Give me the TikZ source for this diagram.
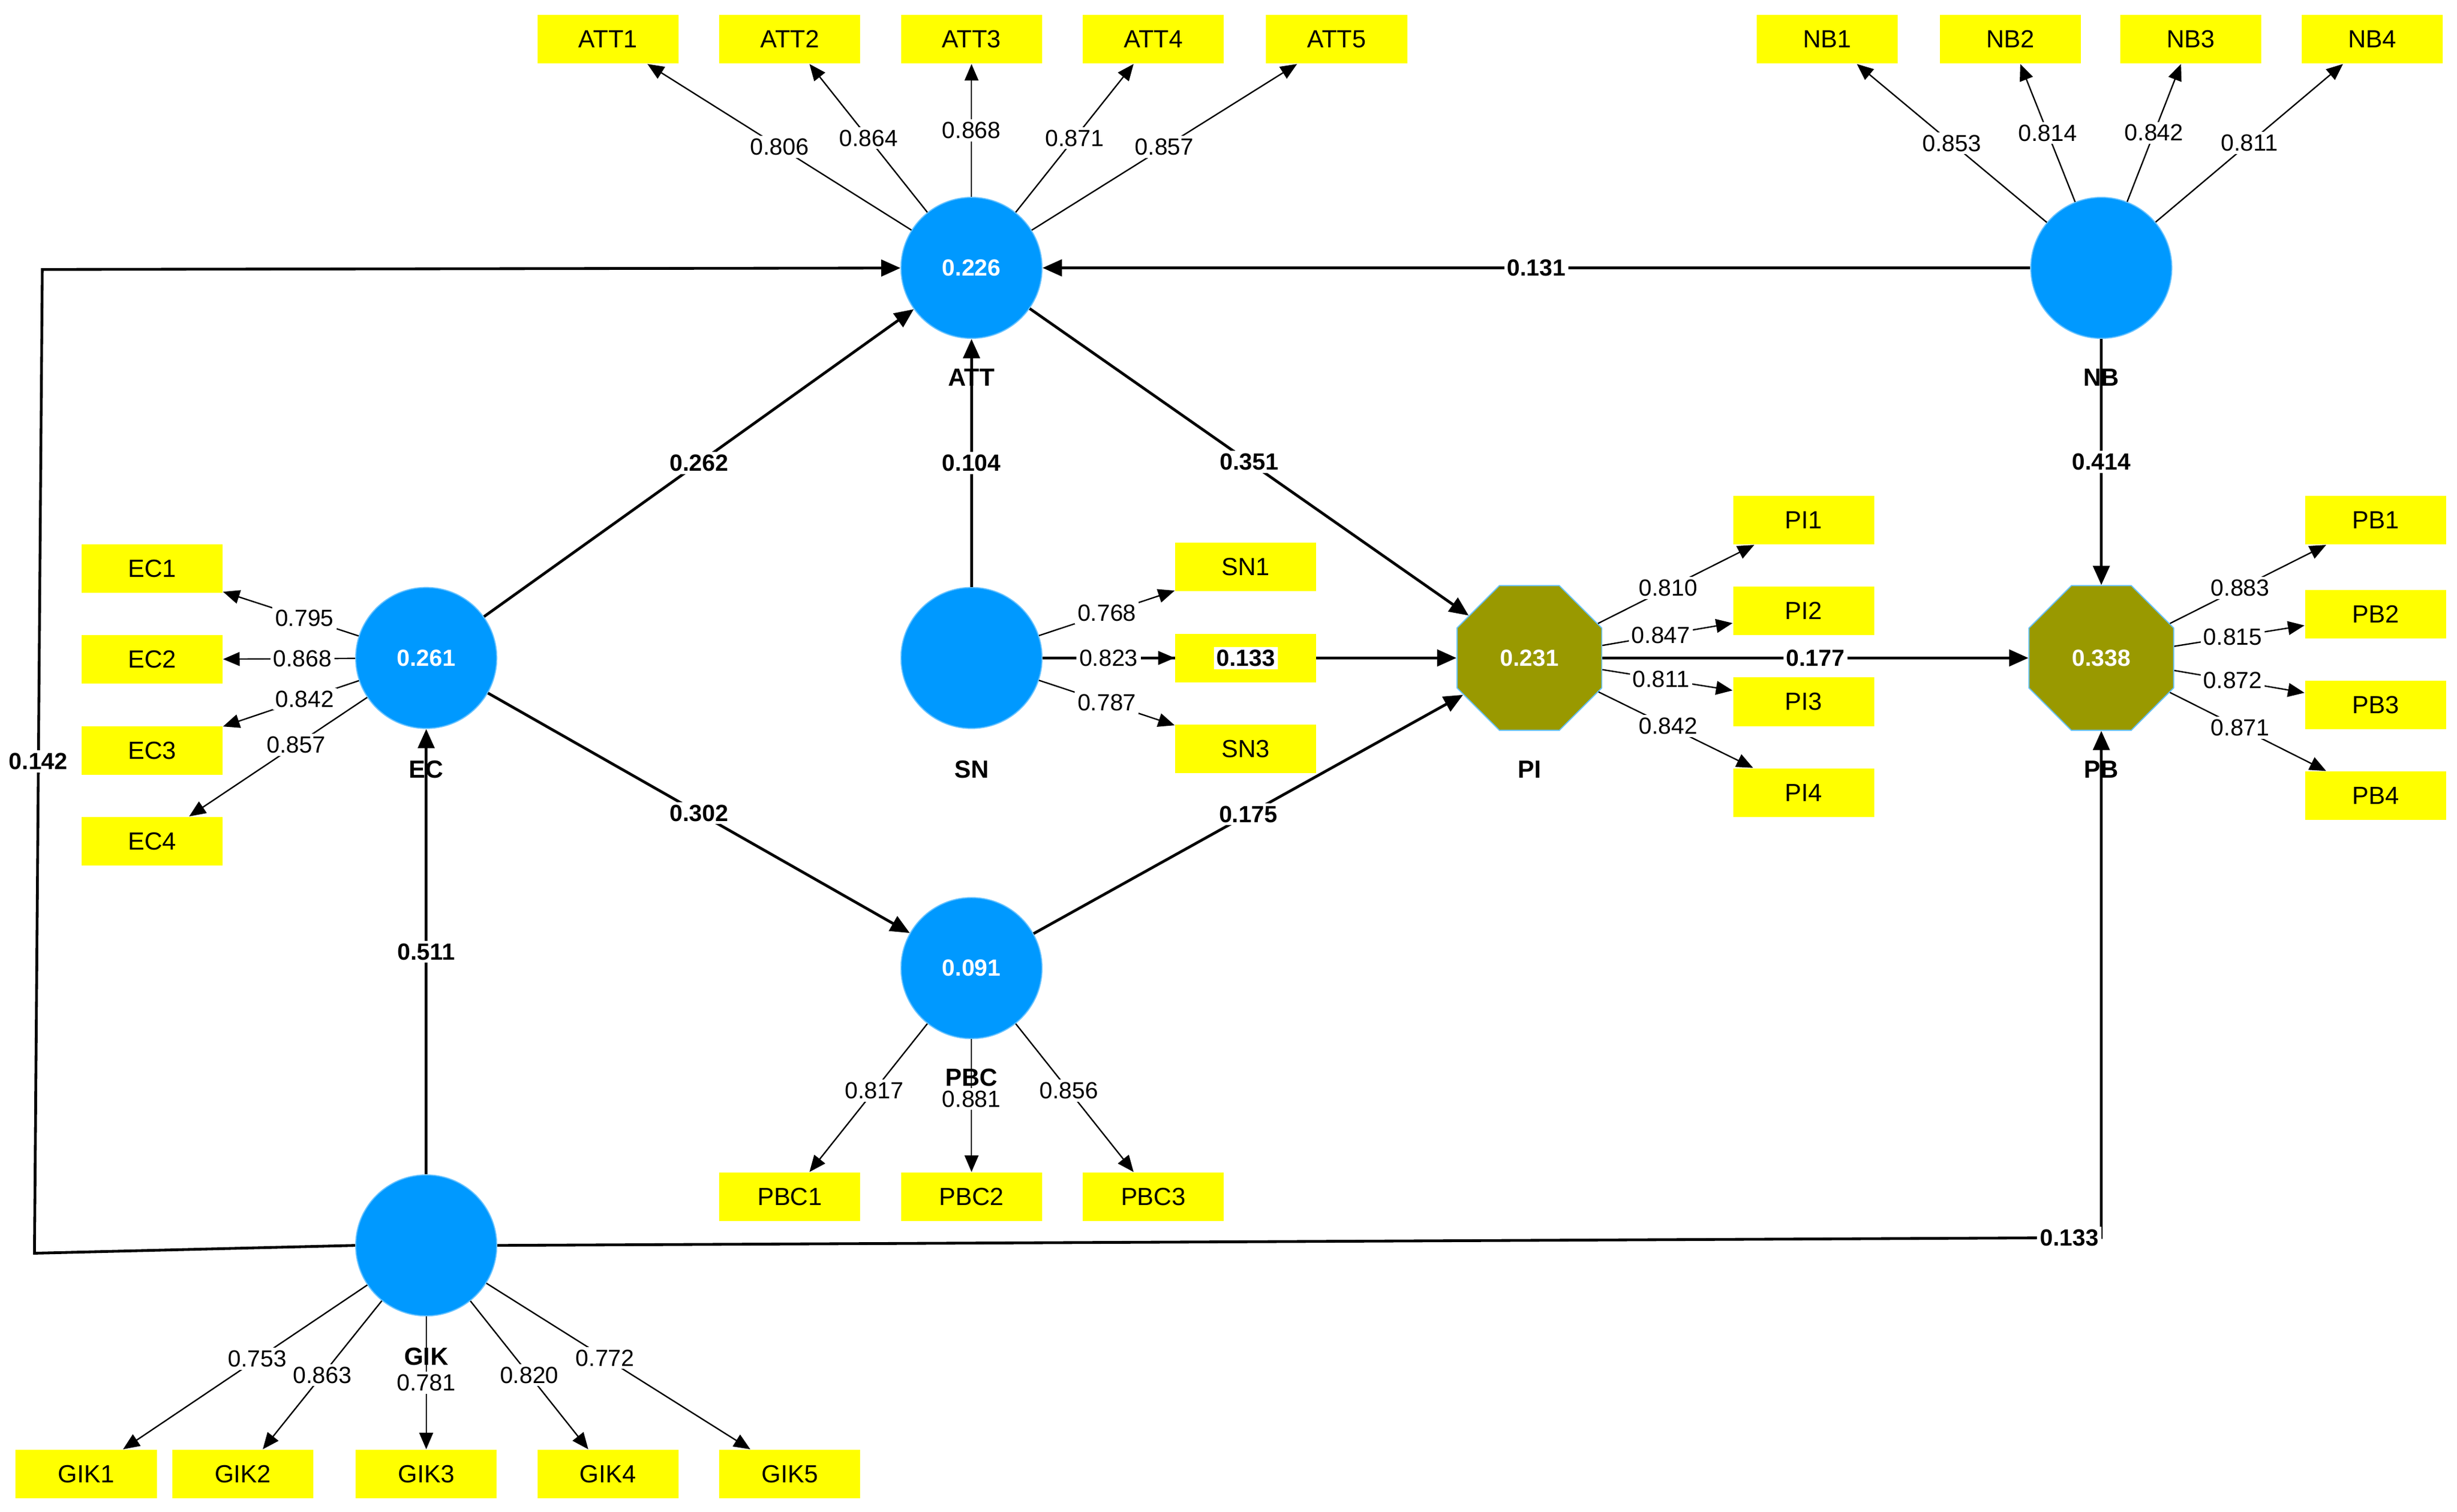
\documentclass[tikz,border=0pt]{standalone}
\usepackage{fontspec}
\setmainfont{Liberation Sans}
\usetikzlibrary{shapes.geometric,arrows.meta}
\definecolor{lvblue}{HTML}{0099FF}
\definecolor{olive2}{HTML}{999900}
\definecolor{ybox}{HTML}{FFFF00}
\begin{document}
\begin{tikzpicture}[x=0.02cm,y=-0.02cm,
 lv/.style={circle,fill=lvblue,draw=lvblue!60,minimum size=1.8cm,inner sep=0pt,text=white,font=\fontsize{8.5}{10}\selectfont\bfseries},
 oct/.style={regular polygon,regular polygon sides=8,fill=olive2,draw=lvblue!60,minimum size=2cm,inner sep=0pt,text=white,font=\fontsize{8.5}{10}\selectfont\bfseries},
 box/.style={rectangle,fill=ybox,minimum width=1.8cm,minimum height=0.62cm,inner sep=0pt,font=\fontsize{9}{10}\selectfont},
 nm/.style={font=\fontsize{9}{10}\selectfont\bfseries},
 ld/.style={-{Triangle[length=6pt,width=5pt]},line width=0.5pt},
 sp/.style={-{Triangle[length=7pt,width=6pt]},line width=1pt},
 ll/.style={fill=white,inner sep=1pt,font=\fontsize{8.5}{10}\selectfont},
 pl/.style={fill=white,inner sep=1pt,font=\fontsize{8.5}{10}\selectfont\bfseries}]
\useasboundingbox (0,0) rectangle (1568,965);
% latent variables
\node[lv] (ATT) at (620,171) {0.226};
\node[lv] (NB) at (1341,171) {};
\node[lv] (EC) at (272,420) {0.261};
\node[lv] (SN) at (620,420) {};
\node[lv] (PBC) at (620,618) {0.091};
\node[lv] (GIK) at (272,795) {};
\node[oct] (PI) at (976,420) {0.231};
\node[oct] (PB) at (1341,420) {0.338};
\node[nm] (nATT) at (620,241) {ATT};
\node[nm] (nNB) at (1341,241) {NB};
\node[nm] (nEC) at (272,491) {EC};
\node[nm] (nSN) at (620,491) {SN};
\node[nm] (nPI) at (976,491) {PI};
\node[nm] (nPB) at (1341,491) {PB};
\node[nm] (nPBC) at (620,688) {PBC};
\node[nm] (nGIK) at (272,866) {GIK};
% indicator boxes
\foreach \n/\x in {1/388,2/504,3/620,4/736,5/853} \node[box] (ATT\n) at (\x,25) {ATT\n};
\foreach \n/\x in {1/1166,2/1283,3/1398,4/1514} \node[box] (NB\n) at (\x,25) {NB\n};
\foreach \n/\y in {1/363,2/421,3/479,4/537} \node[box] (EC\n) at (97,\y) {EC\n};
\foreach \n/\y in {1/332,2/390,3/448,4/506} \node[box] (PI\n) at (1151,\y) {PI\n};
\foreach \n/\y in {1/332,2/392,3/450,4/508} \node[box] (PB\n) at (1516,\y) {PB\n};
\foreach \n/\x in {1/504,2/620,3/736} \node[box] (PBC\n) at (\x,764) {PBC\n};
\foreach \n/\x in {1/55,2/155,3/272,4/388,5/504} \node[box] (GIK\n) at (\x,941) {GIK\n};
% SN -> PI passes under SN2 box
\draw[sp] (SN) -- (PI);
\node[box] (SN1) at (795,362) {SN1};
\node[box] (SN2) at (795,420) {};
\node[box] (SN3) at (795,478) {SN3};
\node[pl] (lSNPI) at (SN2) {0.133};
% loadings
\foreach \n/\v in {1/0.806,2/0.864,3/0.868,4/0.871,5/0.857} \draw[ld] (ATT) -- node[ll,pos=0.5]{\v} (ATT\n);
\foreach \n/\v in {1/0.853,2/0.814,3/0.842,4/0.811} \draw[ld] (NB) -- node[ll,pos=0.5]{\v} (NB\n);
\foreach \n/\v in {1/0.795,2/0.868,3/0.842,4/0.857} \draw[ld] (EC) -- node[ll,pos=0.4]{\v} (EC\n);
\foreach \n/\v in {1/0.768,2/0.823,3/0.787} \draw[ld] (SN) -- node[ll,pos=0.5]{\v} (SN\n);
\foreach \n/\v in {1/0.810,2/0.847,3/0.811,4/0.842} \draw[ld] (PI) -- node[ll,pos=0.45]{\v} (PI\n);
\foreach \n/\v in {1/0.883,2/0.815,3/0.872,4/0.871} \draw[ld] (PB) -- node[ll,pos=0.45]{\v} (PB\n);
\foreach \n/\v in {1/0.817,2/0.881,3/0.856} \draw[ld] (PBC) -- node[ll,pos=0.45]{\v} (PBC\n);
\foreach \n/\v/\p in {1/0.753/0.45,2/0.863/0.5,3/0.781/0.5,4/0.820/0.5,5/0.772/0.45} \draw[ld] (GIK) -- node[ll,pos=\p]{\v} (GIK\n);
% structural paths
\draw[sp] (GIK) -- node[pl]{0.511} (EC);
\draw[sp] (EC) -- node[pl]{0.262} (ATT);
\draw[sp] (EC) -- node[pl]{0.302} (PBC);
\draw[sp] (SN) -- node[pl]{0.104} (ATT);
\draw[sp] (ATT) -- node[pl]{0.351} (PI);
\draw[sp] (PBC) -- node[pl]{0.175} (PI);
\draw[sp] (PI) -- node[pl]{0.177} (PB);
\draw[sp] (NB) -- node[pl]{0.131} (ATT);
\draw[sp] (NB) -- node[pl]{0.414} (PB);
\coordinate (c1) at (22,800);
\coordinate (c2) at (27,172);
\draw[sp] (GIK.west) -- (c1) -- node[pl,pos=0.5]{0.142} (c2) -- (ATT);
\coordinate (c3) at (1341,790);
\draw[sp] (GIK.east) -- node[pl,pos=0.98]{0.133} (c3) -- (PB);
\end{tikzpicture}
\end{document}
